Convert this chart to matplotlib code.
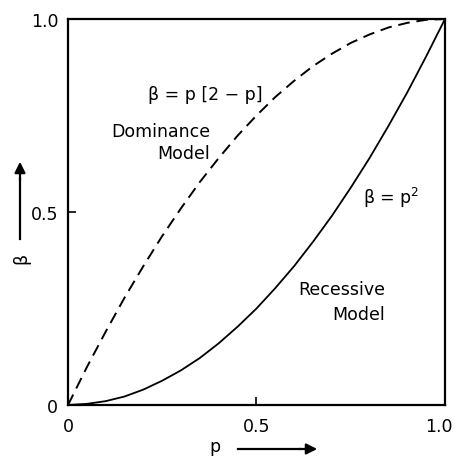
"""
Dominance vs. recessive model: beta as a function of p (schematic reproduction).
"""

import matplotlib
matplotlib.use("Agg")
import matplotlib.pyplot as plt
from matplotlib.transforms import ScaledTranslation

# values
p_values = [0.0, 0.05, 0.1, 0.15, 0.2, 0.25, 0.3, 0.35, 0.4, 0.45, 0.5,
            0.55, 0.6, 0.65, 0.7, 0.75, 0.8, 0.85, 0.9, 0.95, 1.0]
beta_dominance = [0.0, 0.098, 0.19, 0.278, 0.36, 0.438, 0.51, 0.578, 0.64, 0.698, 0.75,
                  0.798, 0.84, 0.878, 0.91, 0.938, 0.96, 0.978, 0.99, 0.998, 1.0]
beta_recessive = [0.0, 0.003, 0.01, 0.022, 0.04, 0.063, 0.09, 0.122, 0.16, 0.203, 0.25,
                  0.303, 0.36, 0.423, 0.49, 0.563, 0.64, 0.723, 0.81, 0.903, 1.0]

tick_positions = [0, 0.5, 1.0]
x_tick_labels = ["0", "0.5", "1.0"]
y_tick_labels = ["0", "0.5", "1.0"]

FONT = 12.5
W, H = 456, 460

fig = plt.figure(figsize=(W / 100, H / 100), dpi=100)
ax = fig.add_axes([68 / W, 1 - 406 / H, 377 / W, 386 / H])

ax.plot(p_values, beta_dominance, color="black", lw=1.4, dashes=(6, 3.5))
ax.plot(p_values, beta_recessive, color="black", lw=1.3)

ax.set_xlim(0, 1)
ax.set_ylim(0, 1)
for s in ax.spines.values():
    s.set_linewidth(1.6)

ax.set_xticks(tick_positions)
ax.set_xticklabels(x_tick_labels)
ax.set_yticks(tick_positions)
ax.set_yticklabels(y_tick_labels)
ax.tick_params(direction="in", length=6, width=1.2, labelsize=FONT)
ax.tick_params(axis="x", pad=9)
ax.tick_params(axis="y", pad=7)
# keep the right-hand "1.0" inside the picture
last = ax.get_xticklabels()[-1]
last.set_transform(last.get_transform() + ScaledTranslation(-6 / 100, 0, fig.dpi_scale_trans))

# curve annotations
ax.text(0.363, 0.806, "β = p [2 − p]", ha="center", va="center", fontsize=FONT)
ax.text(0.377, 0.71, "Dominance", ha="right", va="center", fontsize=FONT)
ax.text(0.377, 0.652, "Model", ha="right", va="center", fontsize=FONT)
ax.text(0.857, 0.539, "β = p$^2$", ha="center", va="center", fontsize=FONT)
ax.text(0.841, 0.30, "Recessive", ha="right", va="center", fontsize=FONT)
ax.text(0.841, 0.236, "Model", ha="right", va="center", fontsize=FONT)

# axis labels with arrows, placed in figure pixels
def fx(x):
    return x / W

def fy(y):
    return 1 - y / H

fig.text(fx(215), fy(447), "p", ha="center", va="center", fontsize=FONT)
fig.add_artist(plt.Line2D([fx(238), fx(300)], [fy(450), fy(450)], color="black", lw=1.6))
ax.annotate("", xy=(fx(320), fy(450)), xytext=(fx(296), fy(450)),
            xycoords="figure fraction", textcoords="figure fraction",
            arrowprops=dict(arrowstyle="-|>", color="black", lw=1.6, mutation_scale=16))

fig.text(fx(21), fy(258), "β", ha="center", va="center", fontsize=FONT, rotation=90)
fig.add_artist(plt.Line2D([fx(20), fx(20)], [fy(240), fy(180)], color="black", lw=1.6))
ax.annotate("", xy=(fx(20), fy(160)), xytext=(fx(20), fy(184)),
            xycoords="figure fraction", textcoords="figure fraction",
            arrowprops=dict(arrowstyle="-|>", color="black", lw=1.6, mutation_scale=16))

fig.savefig("out.png", dpi=100)
